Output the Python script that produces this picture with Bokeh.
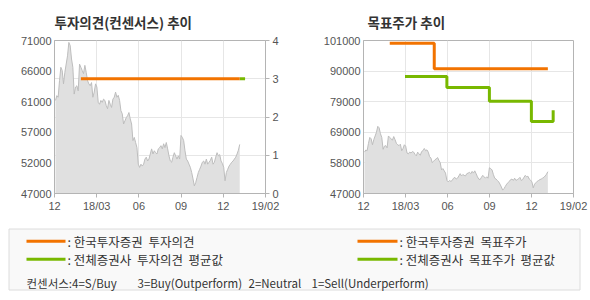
import numpy as np
from bokeh.plotting import figure
from bokeh.models import Range1d, LinearAxis, FixedTicker
from bokeh.layouts import column, row
from bokeh.embed import file_html
from bokeh.resources import INLINE
from bokeh.core.properties import value

# ---------------- data ----------------
price = [
    61600, 62350, 62100, 64700, 66800, 66300, 64200, 66000, 67300, 68600,
    70700, 70200, 68100, 66800, 62600, 63700, 63900, 63100, 67300, 66800,
    66300, 65800, 67100, 66000, 64700, 64200, 63900, 64400, 62100, 62900,
    64200, 63700, 61300, 61000, 61600, 61300, 61800, 61600, 60800, 60300,
    61600, 61000, 60500, 61800, 62100, 62900, 62100, 62400, 61600, 60000,
    59500, 57900, 58400, 58900, 59200, 59700, 58700, 57900, 55300, 55800,
    55000, 54200, 51600, 51100, 51600, 51300, 51600, 52400, 52700, 52100,
    52400, 53200, 54000, 53200, 53700, 53400, 53200, 54000, 54200, 54500,
    54000, 54800, 54200, 55000, 54000, 52900, 52100, 51900, 52700, 53400,
    52900, 52400, 52900, 52400, 56100, 55800, 55300, 53700, 52400, 52100,
    51600, 51100, 50300, 49300, 48200, 48700, 49500, 50300, 50800, 51300,
    51900, 52100, 51600, 52400, 51600, 51900, 52200, 52700, 51600, 51900,
    52700, 53400, 52900, 53100, 52100, 51700, 51100, 49000, 50300, 50800,
    51300, 51600, 51900, 52100, 52400, 52700, 53200, 53800, 54700,
]
day = list(range(len(price)))

x_tick_labels = ["12", "18/03", "06", "09", "12", "19/02"]
x_start, x_end = -0.75, 157.3

opinion_kis_x = [19, 138]
opinion_kis = [3, 3]
opinion_avg_x = [138, 142]
opinion_avg = [3, 3]

target_kis_x = [19, 52.5, 138]
target_kis = [100000, 91000, 91000]
target_avg_x = [30.5, 62, 94, 125.6, 142]
target_avg = [88300, 84400, 79600, 72400, 76400]

left_tick_labels = ["47000", "52000", "57000", "61000", "66000", "71000"]
left_min, left_max = 47000, 71000
opinion_tick_labels = ["0", "1", "2", "3", "4"]
right_tick_labels = ["47000", "58000", "69000", "79000", "90000", "101000"]
right_min, right_max = 47000, 101000

title_left = "투자의견(컨센서스) 추이"
title_right = "목표주가 추이"
legend_kis_op = ":\u00a0한국투자증권\u00a0\u00a0투자의견"
legend_avg_op = ":\u00a0전체증권사\u00a0\u00a0투자의견\u00a0\u00a0평균값"
legend_kis_tp = ":\u00a0한국투자증권\u00a0\u00a0목표주가"
legend_avg_tp = ":\u00a0전체증권사\u00a0\u00a0목표주가\u00a0\u00a0평균값"
consensus_parts = ["컨센서스:4=S/Buy", "3=Buy(Outperform)", "2=Neutral", "1=Sell(Underperform)"]

# ---------------- style ----------------
ORANGE = "#f27300"
GREEN = "#78b800"
AXIS = "#b4b4b4"
GRID = "#e6e6e6"
LABEL = "#555555"
KFONT = "Noto Sans CJK KR"
NFONT = "Liberation Sans"

x_ticks = list(np.linspace(x_start, x_end, 6))


def base_fig(ymin, ymax, border_left, border_right, title):
    p = figure(width=295, height=220, output_backend="svg", toolbar_location=None,
               x_range=Range1d(x_start, x_end), y_range=Range1d(ymin, ymax),
               min_border_left=border_left, min_border_right=border_right,
               min_border_top=40, min_border_bottom=27,
               background_fill_color="white", border_fill_color="white",
               outline_line_color=AXIS, title=title)
    p.title.text_font = KFONT
    p.title.text_font_size = "13.5px"
    p.title.text_font_style = "bold"
    p.title.text_color = "#333333"
    p.title.align = "left"
    p.title.standoff = 18
    p.xaxis.ticker = FixedTicker(ticks=x_ticks)
    p.xaxis.major_label_overrides = {t: l for t, l in zip(x_ticks, x_tick_labels)}
    for ax in [p.xaxis[0], p.yaxis[0]]:
        ax.axis_line_color = AXIS
        ax.major_tick_line_color = AXIS
        ax.minor_tick_line_color = None
        ax.major_label_text_font = NFONT
        ax.major_label_text_font_size = "11px"
        ax.major_label_text_color = LABEL
    p.xaxis.major_tick_out = 4
    p.xaxis.major_tick_in = 0
    p.xaxis.major_label_standoff = 2
    p.yaxis.major_tick_out = 0
    p.yaxis.major_tick_in = 0
    p.yaxis.major_label_standoff = 3
    p.xgrid.ticker = FixedTicker(ticks=x_ticks)
    p.xgrid.grid_line_color = GRID
    p.ygrid.grid_line_color = GRID
    p.varea(x=day, y1=ymin, y2=price, fill_color="#e0e0e0")
    p.line(day, price, line_color="#bdbdbd", line_width=1)
    return p


# ---------------- left chart ----------------
p1 = base_fig(left_min, left_max, 54, 30, title_left)
lt = list(np.linspace(left_min, left_max, len(left_tick_labels)))
p1.yaxis.ticker = FixedTicker(ticks=lt)
p1.yaxis.major_label_overrides = {t: l for t, l in zip(lt, left_tick_labels)}
p1.extra_y_ranges = {"op": Range1d(0, len(opinion_tick_labels) - 1)}
op_ticks = list(range(len(opinion_tick_labels)))
rax = LinearAxis(y_range_name="op", ticker=FixedTicker(ticks=op_ticks),
                 axis_line_color=AXIS, major_tick_line_color=AXIS,
                 minor_tick_line_color=None, major_tick_out=4, major_tick_in=0,
                 major_label_standoff=3, major_label_text_font=NFONT,
                 major_label_text_font_size="11px", major_label_text_color=LABEL)
p1.add_layout(rax, "right")
unit = (left_max - left_min) / (len(opinion_tick_labels) - 1)
p1.ygrid.ticker = FixedTicker(ticks=[left_min + k * unit for k in op_ticks[1:-1]])
p1.line(opinion_avg_x, opinion_avg, y_range_name="op", line_color=GREEN, line_width=3)
p1.line(opinion_kis_x, opinion_kis, y_range_name="op", line_color=ORANGE, line_width=3)

# ---------------- right chart ----------------
p2 = base_fig(right_min, right_max, 68, 17, title_right)
p2.title.offset = 4
rt = list(np.linspace(right_min, right_max, len(right_tick_labels)))
p2.yaxis.ticker = FixedTicker(ticks=rt)
p2.yaxis.major_label_overrides = {t: l for t, l in zip(rt, right_tick_labels)}
p2.ygrid.ticker = FixedTicker(ticks=rt[1:-1])
p2.step(target_avg_x, target_avg, mode="after", line_color=GREEN, line_width=3)
p2.step(target_kis_x, target_kis, mode="after", line_color=ORANGE, line_width=3)

# ---------------- legend ----------------
p3 = figure(width=590, height=80, output_backend="svg", toolbar_location=None,
            x_range=Range1d(0, 590), y_range=Range1d(80, 0),
            min_border=0, outline_line_color=None,
            background_fill_color="white", border_fill_color="white")
p3.axis.visible = False
p3.grid.visible = False
p3.quad(left=8.5, right=579.5, top=8.5, bottom=69.5, fill_color="#f9f9f9",
        line_color="#dcdcdc", line_width=1)
p3.segment(x0=[26, 26, 357, 357], x1=[65, 65, 397, 397],
           y0=[20.7, 38.7, 20.7, 38.7], y1=[20.7, 38.7, 20.7, 38.7],
           line_color=[ORANGE, GREEN, ORANGE, GREEN], line_width=3)
p3.text(x=[67, 67, 399, 399], y=[21, 39, 21, 39],
        text=[legend_kis_op, legend_avg_op, legend_kis_tp, legend_avg_tp],
        text_font=value(KFONT), text_font_size="12.5px", text_color="#333333",
        text_baseline="middle", text_align="left")
p3.text(x=[26, 137, 248, 311], y=[62.5] * 4, text=consensus_parts,
        text_font=value(KFONT), text_font_size="11.5px", text_color="#333333",
        text_baseline="middle", text_align="left")

layout = column(row(p1, p2, spacing=0), p3, spacing=0)
open("out.html", "w").write(file_html(layout, INLINE))
